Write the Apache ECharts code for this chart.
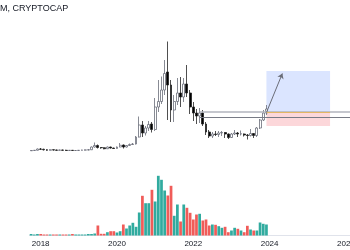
<!DOCTYPE html>
<html>
<head>
<meta charset="utf-8">
<script src="https://cdn.jsdelivr.net/npm/echarts@6/dist/echarts.min.js"></script>
<style>
html, body { margin: 0; padding: 0; background: #fff; }
#main { width: 350px; height: 250px; }
</style>
</head>
<body>
<div id="main"></div>
<script>
// monthly candles, Oct 2017 .. Dec 2023, market cap in billions
// [open, close, low, high]
var candles = [
    [0.25, 0.30, 0.20, 0.35], [0.30, 0.35, 0.25, 0.40], [0.35, 0.60, 0.30, 0.70],
    [0.60, 0.55, 0.40, 0.80], [0.55, 0.45, 0.30, 0.65], [0.45, 0.35, 0.25, 0.55],
    [0.35, 0.45, 0.30, 0.55], [0.45, 0.40, 0.30, 0.50], [0.40, 0.35, 0.25, 0.45],
    [0.35, 0.40, 0.30, 0.45], [0.40, 0.35, 0.25, 0.45], [0.35, 0.30, 0.25, 0.45],
    [0.30, 0.35, 0.25, 0.40], [0.35, 0.30, 0.20, 0.40], [0.30, 0.30, 0.20, 0.35],
    [0.30, 0.35, 0.25, 0.40], [0.35, 0.40, 0.30, 0.45], [0.40, 0.40, 0.30, 0.50],
    [0.40, 0.45, 0.35, 0.60], [0.45, 1.00, 0.40, 1.10], [1.00, 1.30, 0.90, 1.90],
    [1.30, 0.90, 0.70, 1.50], [0.90, 0.85, 0.65, 1.00], [0.85, 0.65, 0.55, 0.95],
    [0.65, 1.00, 0.60, 1.10], [1.00, 0.80, 0.70, 1.05], [0.80, 0.70, 0.60, 0.85],
    [0.70, 1.00, 0.65, 1.10], [1.00, 1.35, 0.95, 1.80], [1.40, 1.00, 0.70, 1.50],
    [1.00, 1.30, 0.90, 1.40], [1.30, 1.50, 1.20, 1.70], [1.50, 1.60, 1.40, 1.80],
    [1.60, 3.00, 1.50, 3.20], [3.00, 5.40, 2.90, 7.10], [5.40, 3.80, 3.00, 6.20],
    [3.80, 4.80, 3.30, 5.20], [4.80, 5.50, 4.20, 6.20], [5.60, 4.50, 3.90, 6.00],
    [4.50, 9.00, 4.20, 10.8], [9.00, 10.1, 8.00, 14.4], [10.1, 12.4, 9.60, 15.1],
    [12.4, 15.7, 11.4, 18.4], [16.0, 13.4, 6.40, 22.1], [13.4, 8.40, 6.00, 14.4],
    [8.40, 10.1, 6.00, 11.4], [10.1, 11.8, 9.40, 14.8], [11.8, 11.0, 9.00, 15.0],
    [11.0, 13.6, 10.0, 14.8], [13.6, 11.8, 11.0, 17.4], [11.8, 9.00, 7.60, 12.4],
    [9.00, 7.80, 6.20, 10.0], [7.80, 7.20, 5.60, 8.60], [7.20, 7.80, 5.80, 8.80],
    [7.80, 5.60, 5.20, 8.40], [5.60, 4.00, 3.40, 6.00], [4.00, 3.20, 2.80, 4.40],
    [3.20, 3.60, 2.80, 4.00], [3.60, 3.50, 3.20, 4.20], [3.50, 3.80, 3.00, 4.20],
    [3.80, 3.90, 3.20, 4.20], [3.90, 3.60, 2.80, 4.00], [3.60, 2.90, 2.60, 3.70],
    [2.90, 3.60, 2.80, 3.80], [3.60, 3.80, 3.40, 4.40], [3.80, 3.60, 3.00, 4.00],
    [3.60, 3.65, 3.30, 4.30], [3.60, 3.40, 3.10, 3.70], [3.40, 3.30, 2.50, 3.60],
    [3.30, 3.70, 3.10, 4.60], [3.70, 3.30, 2.80, 3.80], [3.30, 4.80, 3.00, 5.00],
    [4.80, 6.40, 4.60, 6.60], [6.40, 7.80, 6.20, 8.40], [7.80, 8.60, 7.40, 9.40]
];
var volumes = [
    1.5, 1, 1.5, 1.5, 1, 1, 1, 1, 1, 1, 1, 1, 1, 1.5, 1, 1, 1, 1, 1.5, 1.5,
    2, 10, 1.7, 1.7, 3.3, 4.3, 4.3, 3, 4.3, 11, 7, 10, 12.7, 8.7, 23, 39.7,
    32.3, 32.3, 45.7, 34, 59.7, 55.7, 45, 40, 49.7, 19.7, 31, 14, 31, 27.7,
    22.7, 16, 21, 21.7, 15, 16, 10, 11, 10.7, 9.3, 7.7, 8.7, 3.3, 5, 7.7,
    6.7, 5, 3.3, 9.7, 6, 5, 5, 13, 11.7, 11
];
var yearLabels = ['2018', '2020', '2022', '2024', '2026'];
var title = 'M, CRYPTOCAP';
var levelHigh = 8.0, levelLow = 7.0;
var targetTop = 16.2, stopBottom = 5.2;

// month axis runs on past the data to Mar 2026
var months = [];
for (var y = 2017, m = 10; y < 2026 || m <= 3; ) {
    months.push(y + '-' + (m < 10 ? '0' + m : m));
    m++;
    if (m > 12) { m = 1; y++; }
}

var upColor = '#26a69a', downColor = '#ef5350';
var volData = volumes.map(function (v, i) {
    var c = candles[i];
    return { value: v, itemStyle: { color: c[1] >= c[0] ? upColor : downColor } };
});

var dom = document.getElementById('main');
var myChart = echarts.init(dom, null, { renderer: 'canvas' });
var option = {
    animation: false,
    backgroundColor: '#fff',
    title: {
        text: title,
        left: 0,
        top: 4,
        padding: 0,
        textStyle: { fontSize: 9, fontWeight: 'normal', color: '#131722', fontFamily: 'Liberation Sans' }
    },
    grid: [
        { left: 29.5, width: 324.4, top: 0, height: 152, containLabel: false, outerBoundsMode: 'none' },
        { left: 29.5, width: 324.4, top: 150, height: 85.5, containLabel: false, outerBoundsMode: 'none' }
    ],
    xAxis: [{
        type: 'category', gridIndex: 0, data: months, boundaryGap: true,
        axisLine: { show: false }, axisTick: { show: false }, axisLabel: { show: false }, splitLine: { show: false }
    }, {
        type: 'category', gridIndex: 1, data: months, boundaryGap: true,
        axisLine: { show: true, lineStyle: { color: '#e0e3eb', width: 1 } },
        axisTick: { show: false },
        axisLabel: {
            color: '#131722', fontSize: 8, fontFamily: 'Liberation Sans', margin: 4,
            interval: function (idx, val) {
                return val.slice(5) === '01' && yearLabels.indexOf(val.slice(0, 4)) >= 0;
            },
            formatter: function (val) { return val.slice(0, 4); }
        },
        splitLine: { show: false }
    }],
    yAxis: [{
        type: 'value', gridIndex: 0, min: 0, max: 30.4,
        axisLine: { show: false }, axisTick: { show: false }, axisLabel: { show: false }, splitLine: { show: false }
    }, {
        type: 'value', gridIndex: 1, min: 0, max: 85.5,
        axisLine: { show: false }, axisTick: { show: false }, axisLabel: { show: false }, splitLine: { show: false }
    }],
    series: [{
        type: 'candlestick',
        xAxisIndex: 0, yAxisIndex: 0,
        data: candles,
        barWidth: 2.4,
        itemStyle: {
            color: '#ffffff', color0: '#000000',
            borderColor: '#6a6d78', borderColor0: '#222222', borderWidth: 0.8
        },
        markArea: {
            silent: true,
            data: [
                [{ coord: [74, targetTop], itemStyle: { color: 'rgba(41,98,255,0.17)' } }, { coord: [94, levelHigh] }],
                [{ coord: [74, levelHigh], itemStyle: { color: 'rgba(242,54,69,0.2)' } }, { coord: [94, stopBottom] }]
            ]
        },
        markLine: {
            silent: true,
            symbol: 'none',
            label: { show: false },
            data: [
                [{ coord: [53, levelHigh], lineStyle: { color: '#b2b5be', width: 1.5, type: 'solid' } }, { coord: [101, levelHigh] }],
                [{ coord: [53, levelLow], lineStyle: { color: '#787b86', width: 1, type: 'solid' } }, { coord: [101, levelLow] }],
                [{ coord: [74, levelHigh], lineStyle: { color: '#e2b664', width: 1, type: 'solid' } }, { coord: [94, levelHigh] }],
                [{ coord: [74, 7.9], symbol: 'none', lineStyle: { color: '#6a6d78', width: 1, type: 'solid' } },
                 { coord: [78.8, 15.7], symbol: 'arrow', symbolSize: 5 }]
            ]
        }
    }, {
        type: 'bar',
        xAxisIndex: 1, yAxisIndex: 1,
        data: volData,
        barWidth: '86%',
        itemStyle: { opacity: 0.95 }
    }]
};
myChart.setOption(option);
</script>
</body>
</html>
